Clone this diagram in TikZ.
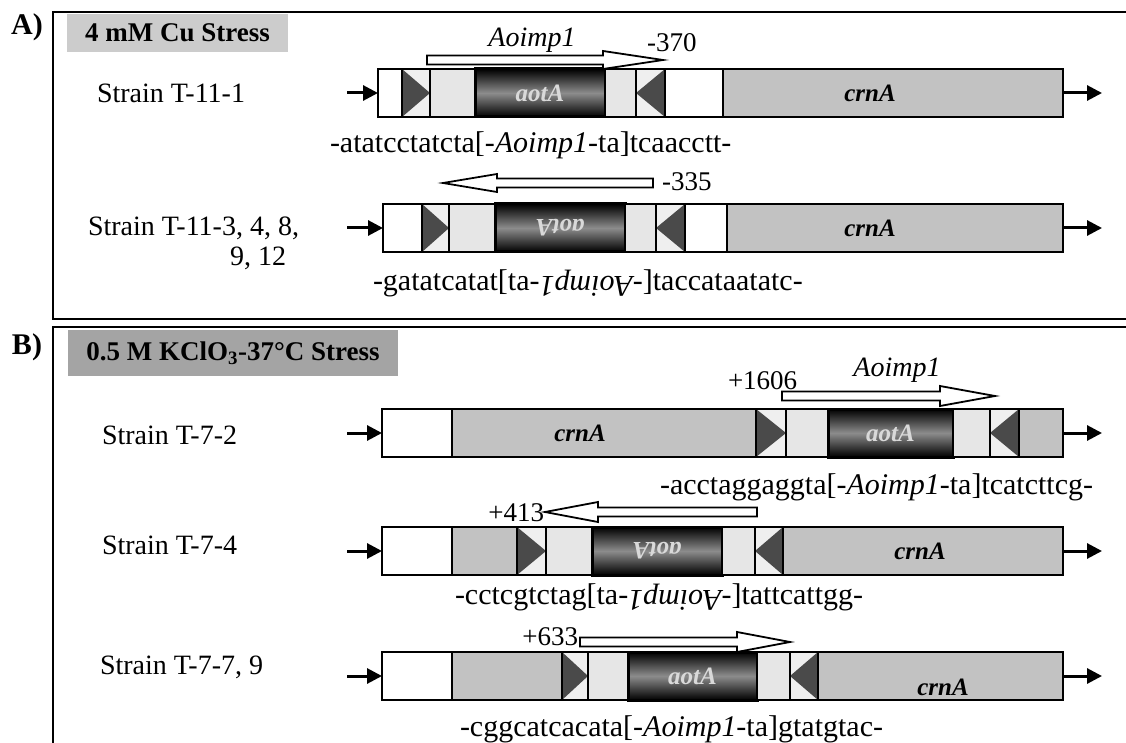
\documentclass[tikz,border=0pt]{standalone}
\usepackage{fontspec}
\setmainfont{Liberation Serif}
\usetikzlibrary{arrows.meta}
\definecolor{crn}{HTML}{C2C2C2}
\definecolor{lite}{HTML}{E6E6E6}
\definecolor{tribg}{HTML}{EFEFEF}
\definecolor{trifc}{HTML}{4A4A4A}
\definecolor{ttlA}{HTML}{CCCCCC}
\definecolor{ttlB}{HTML}{A4A4A4}
\tikzset{
 every node/.style={inner sep=0pt, outer sep=0pt},
 seg/.style={draw=black, line width=1.8pt, anchor=west, minimum height=48pt},
 whiteseg/.style={seg, fill=white},
 crnseg/.style={seg, fill=crn},
 liteseg/.style={seg, fill=lite},
 triseg/.style={seg, fill=tribg},
 aotseg/.style={seg, line width=3pt, shading=axis, top color=black, bottom color=black, middle color=black!45, text=white!85!black, font=\fontsize{25}{28}\selectfont\bfseries\itshape},
 crnlab/.style={font=\fontsize{25}{28}\selectfont\bfseries\itshape},
 segline/.style={draw=black, line width=1.8pt},
 trifill/.style={fill=trifc},
 flow/.style={line width=3pt, -{Triangle[length=15pt,width=15pt]}},
 openarr/.style={draw=black, line width=1.8pt, fill=white, line join=miter},
 strain/.style={anchor=west, font=\fontsize{28}{32}\selectfont},
 seqtxt/.style={anchor=west, font=\fontsize{30}{34}\selectfont},
 num/.style={font=\fontsize{27}{30}\selectfont},
 genelab/.style={font=\fontsize{28}{30}\selectfont\itshape},
 panel/.style={font=\fontsize{30}{34}\selectfont\bfseries},
 ttl/.style={font=\fontsize{27}{30}\selectfont\bfseries},
 frame/.style={draw=black, line width=2.2pt},
}
\newcommand{\trir}[1]{\fill[trifill] (#1.north west) -- (#1.east) -- (#1.south west) -- cycle; \draw[segline] (#1.north west) rectangle (#1.south east);}
\newcommand{\tril}[1]{\fill[trifill] (#1.north east) -- (#1.west) -- (#1.south east) -- cycle; \draw[segline] (#1.north west) rectangle (#1.south east);}
\newcommand{\rAoi}{\rotatebox[origin=c]{180}{\textit{Aoimp1}}}
\begin{document}
\begin{tikzpicture}[x=1pt,y=-1pt]
\useasboundingbox (0,0) rectangle (1126,743);
% frames
\draw[frame] (1130,12) -- (53,12) -- (53,319) -- (1130,319);
\draw[frame] (1130,327) -- (53,327) -- (53,750);
% ---------------- Panel A
\node[panel] (pA) at (27,27) {A)};
\node[ttl, fill=ttlA, minimum width=221pt, minimum height=38pt] (tA) at (177.5,33) {4 mM Cu Stress};
% Row A1
\node[strain] (sA1) at (97,93) {Strain T-11-1};
\node[whiteseg, minimum width=24pt] (a1w1) at (378,93) {};
\node[triseg, minimum width=28pt] (a1t1) at (402,93) {};
\node[liteseg, minimum width=45pt] (a1l1) at (430,93) {};
\node[aotseg, minimum width=130pt] (a1a) at (475,93) {aotA};
\node[liteseg, minimum width=31pt] (a1l2) at (605,93) {};
\node[triseg, minimum width=29pt] (a1t2) at (636,93) {};
\node[whiteseg, minimum width=58pt] (a1w2) at (665,93) {};
\node[crnseg, minimum width=340pt] (a1c) at (723,93) {};
\node[crnlab] (a1cl) at (870,93) {crnA};
\trir{a1t1} \tril{a1t2}
\draw[line width=2pt] (a1w1.north west) rectangle (a1c.south east);
\coordinate (a1in) at (347,93); \coordinate (a1out) at (1102,93);
\draw[flow] (a1in) -- (a1w1.west);
\draw[flow] (a1c.east) -- (a1out);
\draw[openarr] (427,55.5) -- (603,55.5) -- (603,51) -- (663,60) -- (603,69) -- (603,64.5) -- (427,64.5) -- cycle;
\node[genelab] (a1g) at (532,40) {Aoimp1};
\node[num, anchor=west] (a1n) at (647,43) {-370};
\node[seqtxt] (a1s) at (330,145) {-atatcctatcta[-\textit{Aoimp1}-ta]tcaacctt-};
% Row A2
\node[strain] (sA2) at (88,228) {Strain T-11-3, 4, 8,};
\node[strain] (sA2b) at (230,258) {9, 12};
\node[whiteseg, minimum width=39pt] (a2w1) at (383,228) {};
\node[triseg, minimum width=27pt] (a2t1) at (422,228) {};
\node[liteseg, minimum width=46pt] (a2l1) at (449,228) {};
\node[aotseg, minimum width=130pt] (a2a) at (495,228) {\rotatebox[origin=c]{180}{aotA}};
\node[liteseg, minimum width=31pt] (a2l2) at (625,228) {};
\node[triseg, minimum width=29pt] (a2t2) at (656,228) {};
\node[whiteseg, minimum width=42pt] (a2w2) at (685,228) {};
\node[crnseg, minimum width=336pt] (a2c) at (727,228) {};
\node[crnlab] (a2cl) at (870,228) {crnA};
\trir{a2t1} \tril{a2t2}
\draw[line width=2pt] (a2w1.north west) rectangle (a2c.south east);
\coordinate (a2in) at (347,228); \coordinate (a2out) at (1102,228);
\draw[flow] (a2in) -- (a2w1.west);
\draw[flow] (a2c.east) -- (a2out);
\draw[openarr] (653,178.5) -- (497,178.5) -- (497,174) -- (443,183) -- (497,192) -- (497,187.5) -- (653,187.5) -- cycle;
\node[num, anchor=west] (a2n) at (662,182) {-335};
\node[seqtxt] (a2s) at (373,283) {-gatatcatat[ta-\rAoi-]taccataatatc-};
% ---------------- Panel B
\node[panel] (pB) at (27,347) {B)};
\node[ttl, fill=ttlB, minimum width=330pt, minimum height=46pt] (tB) at (233,353) {0.5 M KClO\textsubscript{3}-37°C Stress};
% Row B1
\node[strain] (sB1) at (102,435) {Strain T-7-2};
\node[whiteseg, minimum width=70pt] (b1w1) at (382,433) {};
\node[crnseg, minimum width=304pt] (b1c) at (452,433) {};
\node[crnlab] (b1cl) at (580,433) {crnA};
\node[triseg, minimum width=30pt] (b1t1) at (756,433) {};
\node[liteseg, minimum width=42pt] (b1l1) at (786,433) {};
\node[aotseg, minimum width=125pt] (b1a) at (828,433) {aotA};
\node[liteseg, minimum width=37pt] (b1l2) at (953,433) {};
\node[triseg, minimum width=29pt] (b1t2) at (990,433) {};
\node[crnseg, minimum width=44pt] (b1c2) at (1019,433) {};
\trir{b1t1} \tril{b1t2}
\draw[line width=2pt] (b1w1.north west) rectangle (b1c2.south east);
\coordinate (b1in) at (347,433); \coordinate (b1out) at (1102,433);
\draw[flow] (b1in) -- (b1w1.west);
\draw[flow] (b1c2.east) -- (b1out);
\draw[openarr] (782,391.5) -- (940,391.5) -- (940,386) -- (995,396) -- (940,406) -- (940,400.5) -- (782,400.5) -- cycle;
\node[genelab] (b1g) at (897,370) {Aoimp1};
\node[num, anchor=west] (b1n) at (728,381) {+1606};
\node[seqtxt] (b1s) at (660,487) {-acctaggaggta[-\textit{Aoimp1}-ta]tcatcttcg-};
% Row B2
\node[strain] (sB2) at (102,545) {Strain T-7-4};
\node[whiteseg, minimum width=70pt] (b2w1) at (382,551) {};
\node[crnseg, minimum width=65pt] (b2c1) at (452,551) {};
\node[triseg, minimum width=29pt] (b2t1) at (517,551) {};
\node[liteseg, minimum width=46pt] (b2l1) at (546,551) {};
\node[aotseg, minimum width=130pt] (b2a) at (592,551) {\rotatebox[origin=c]{180}{aotA}};
\node[liteseg, minimum width=33pt] (b2l2) at (722,551) {};
\node[triseg, minimum width=28pt] (b2t2) at (755,551) {};
\node[crnseg, minimum width=280pt] (b2c) at (783,551) {};
\node[crnlab] (b2cl) at (920,551) {crnA};
\trir{b2t1} \tril{b2t2}
\draw[line width=2pt] (b2w1.north west) rectangle (b2c.south east);
\coordinate (b2in) at (347,551); \coordinate (b2out) at (1102,551);
\draw[flow] (b2in) -- (b2w1.west);
\draw[flow] (b2c.east) -- (b2out);
\draw[openarr] (757,507.5) -- (598,507.5) -- (598,502) -- (545,512) -- (598,522) -- (598,516.5) -- (757,516.5) -- cycle;
\node[num, anchor=east] (b2n) at (544,513) {+413};
\node[seqtxt] (b2s) at (455,597) {-cctcgtctag[ta-\rAoi-]tattcattgg-};
% Row B3
\node[strain] (sB3) at (100,667) {Strain T-7-7, 9};
\node[whiteseg, minimum width=70pt] (b3w1) at (382,676) {};
\node[crnseg, minimum width=110pt] (b3c1) at (452,676) {};
\node[triseg, minimum width=26pt] (b3t1) at (562,676) {};
\node[liteseg, minimum width=40pt] (b3l1) at (588,676) {};
\node[aotseg, minimum width=129pt] (b3a) at (628,676) {aotA};
\node[liteseg, minimum width=33pt] (b3l2) at (757,676) {};
\node[triseg, minimum width=28pt] (b3t2) at (790,676) {};
\node[crnseg, minimum width=245pt] (b3c) at (818,676) {};
\node[crnlab] (b3cl) at (943,687) {crnA};
\trir{b3t1} \tril{b3t2}
\draw[line width=2pt] (b3w1.north west) rectangle (b3c.south east);
\coordinate (b3in) at (347,676); \coordinate (b3out) at (1102,676);
\draw[flow] (b3in) -- (b3w1.west);
\draw[flow] (b3c.east) -- (b3out);
\draw[openarr] (580,637.5) -- (737,637.5) -- (737,632) -- (790,642) -- (737,652) -- (737,646.5) -- (580,646.5) -- cycle;
\node[num, anchor=east] (b3n) at (578,637) {+633};
\node[seqtxt] (b3s) at (460,729) {-cggcatcacata[-\textit{Aoimp1}-ta]gtatgtac-};
\end{tikzpicture}
\end{document}
